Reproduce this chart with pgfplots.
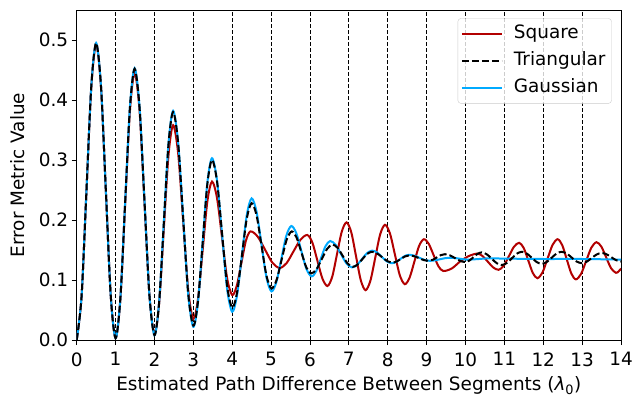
\documentclass[border=0pt]{standalone}
\usepackage{fontspec}
\setmainfont{DejaVu Sans}
\usepackage{pgfplots}
\pgfplotsset{compat=1.18}
\definecolor{sqred}{RGB}{178,0,0}
\definecolor{gblue}{RGB}{0,170,255}
\begin{document}
\begin{tikzpicture}[font=\fontsize{18.5}{22}\selectfont]
\begin{axis}[
  scale only axis, width=544.3bp, height=330bp,
  xmin=0, xmax=14, ymin=0, ymax=0.55,
  xtick={0,1,2,3,4,5,6,7,8,9,10,11,12,13,14},
  ytick={0,0.1,0.2,0.3,0.4,0.5},
  /pgf/number format/assume math mode=true,
  yticklabel style={/pgf/number format/.cd, fixed, fixed zerofill, precision=1},
  xticklabel style={yshift=-4bp},
  tick align=outside, xtick pos=left, ytick pos=left,
  major tick length=5bp,
  tick style={black, line width=0.8bp},
  axis line style={black, line width=0.8bp},
  xmajorgrids=true,
  major grid style={black, line width=0.9bp, dash pattern=on 4bp off 2bp},
  xlabel={Estimated Path Difference Between Segments (\textit{λ}\textsubscript{0})},
  ylabel={Error Metric Value},
  xlabel style={at={(axis description cs:0.5,-0.1545)}, anchor=base},
  ylabel style={at={(axis description cs:-0.0955,0.5)}, anchor=base},
  legend image code/.code={\draw[#1] (0bp,0bp) -- (40bp,0bp);},
  legend cell align=left,
  legend style={at={(1,1)}, anchor=north east, xshift=-9.3bp, yshift=-8.3bp,
    draw=black!20, rounded corners=3bp, fill=white, fill opacity=0.8, text opacity=1,
    inner xsep=3bp, inner ysep=1.5bp, row sep=0bp,
    nodes={text height=13.5bp, text depth=4bp, inner ysep=4.9bp, inner xsep=3bp},
    /tikz/every odd column/.append style={column sep=8bp}},
]
\addlegendimage{sqred, line width=2bp}
\addlegendentry{Square}
\addlegendimage{black, line width=2bp, dash pattern=on 7bp off 3bp}
\addlegendentry{Triangular}
\addlegendimage{gblue, line width=2bp}
\addlegendentry{Gaussian}

% Square
\addplot[forget plot, sqred, line width=2bp, smooth, tension=0.5] coordinates {
(0,0) (0.125,0.0722) (0.25,0.2465) (0.375,0.4208) (0.5,0.493)
(0.625,0.4213) (0.75,0.248) (0.875,0.0747) (1.0,0.003)
(1.1225,0.0677) (1.245,0.224) (1.3675,0.3803) (1.49,0.445)
(1.6175,0.3813) (1.745,0.2275) (1.8725,0.0737) (2.0,0.010)
(2.12,0.061) (2.24,0.184) (2.36,0.307) (2.48,0.358)
(2.61,0.3107) (2.74,0.1965) (2.87,0.0823) (3.0,0.035)
(3.12,0.0685) (3.24,0.1495) (3.36,0.2305) (3.48,0.264)
(3.61,0.2363) (3.74,0.1695) (3.87,0.1027) (4.0,0.075)
(4.1175,0.0905) (4.235,0.128) (4.3525,0.1655) (4.47,0.181)
(4.6575,0.1721) (4.845,0.1505) (5.0325,0.1289) (5.22,0.120)
(5.3975,0.1281) (5.575,0.1475) (5.7525,0.1669) (5.93,0.175)
(6.06,0.1626) (6.19,0.1325) (6.32,0.1024) (6.45,0.090)
(6.5725,0.1055) (6.695,0.143) (6.8175,0.1805) (6.94,0.196)
(7.0625,0.1795) (7.185,0.1395) (7.3075,0.0995) (7.43,0.083)
(7.555,0.099) (7.68,0.1375) (7.805,0.176) (7.93,0.192)
(8.0575,0.1775) (8.185,0.1425) (8.3125,0.1075) (8.44,0.093)
(8.5625,0.104) (8.685,0.1305) (8.8075,0.157) (8.93,0.168)
(9.055,0.1602) (9.18,0.1415) (9.305,0.1228) (9.43,0.115)
(9.6475,0.1192) (9.865,0.1310) (10.0825,0.1398) (10.3,0.144)
(10.4375,0.140) (10.575,0.1305) (10.7125,0.121) (10.85,0.117)
(10.9825,0.1236) (11.115,0.1395) (11.2475,0.1554) (11.38,0.162)
(11.4975,0.1534) (11.615,0.1325) (11.7325,0.1116) (11.85,0.103)
(11.98,0.1125) (12.11,0.1355) (12.24,0.1585) (12.37,0.168)
(12.4875,0.1582) (12.605,0.1345) (12.7225,0.1108) (12.84,0.101)
(12.9725,0.1101) (13.105,0.132) (13.2375,0.1539) (13.37,0.163)
(13.495,0.1555) (13.62,0.1375) (13.745,0.1195) (13.87,0.112)
(13.94,0.1145) (14.0,0.119)
};

% Gaussian
\addplot[forget plot, gblue, line width=2bp, smooth, tension=0.5] coordinates {
(0,0) (0.125,0.0725) (0.25,0.2475) (0.375,0.4225) (0.5,0.495)
(0.625,0.423) (0.75,0.249) (0.875,0.075) (1.0,0.003)
(1.1225,0.069) (1.245,0.228) (1.3675,0.387) (1.49,0.453)
(1.6175,0.388) (1.745,0.2305) (1.8725,0.073) (2.0,0.008)
(2.12,0.063) (2.24,0.195) (2.36,0.327) (2.48,0.382)
(2.61,0.329) (2.74,0.202) (2.87,0.075) (3.0,0.022)
(3.12,0.063) (3.24,0.1625) (3.36,0.262) (3.48,0.303)
(3.61,0.2655) (3.74,0.175) (3.87,0.0845) (4.0,0.047)
(4.125,0.0747) (4.25,0.1415) (4.375,0.2083) (4.5,0.236)
(4.6275,0.2133) (4.755,0.1585) (4.8825,0.1037) (5.01,0.081)
(5.1375,0.097) (5.265,0.1355) (5.3925,0.174) (5.52,0.190)
(5.65,0.1777) (5.78,0.148) (5.91,0.1183) (6.04,0.106)
(6.16,0.1146) (6.28,0.1355) (6.40,0.1564) (6.52,0.165)
(6.66,0.1586) (6.80,0.143) (6.94,0.1274) (7.08,0.121)
(7.21,0.1251) (7.34,0.135) (7.47,0.1449) (7.6,0.149)
(7.725,0.1459) (7.85,0.1385) (7.975,0.1311) (8.1,0.128)
(8.2125,0.130) (8.325,0.135) (8.4375,0.140) (8.55,0.142)
(8.6825,0.1405) (8.815,0.137) (8.9475,0.1335) (9.08,0.132)
(9.21,0.1327) (9.34,0.1345) (9.47,0.1363) (9.6,0.137)
(9.725,0.1366) (9.85,0.1355) (9.975,0.1344) (10.1,0.134)
(10.35,0.135) (10.6,0.136) (11.2,0.1355) (12,0.135) (13,0.135) (14,0.134)
};

% Triangular
\addplot[forget plot, black, line width=2bp, dash pattern=on 7bp off 3bp, smooth, tension=0.5] coordinates {
(0,0) (0.125,0.0725) (0.25,0.2475) (0.375,0.4225) (0.5,0.495)
(0.625,0.423) (0.75,0.249) (0.875,0.075) (1.0,0.003)
(1.1225,0.0687) (1.245,0.2275) (1.3675,0.386) (1.49,0.452)
(1.6175,0.387) (1.745,0.23) (1.8725,0.073) (2.0,0.008)
(2.12,0.0625) (2.24,0.194) (2.36,0.3255) (2.48,0.380)
(2.61,0.328) (2.74,0.202) (2.87,0.076) (3.0,0.024)
(3.12,0.0644) (3.24,0.162) (3.36,0.2596) (3.48,0.300)
(3.61,0.264) (3.74,0.177) (3.87,0.090) (4.0,0.054)
(4.125,0.0795) (4.25,0.141) (4.375,0.2025) (4.5,0.228)
(4.6275,0.2072) (4.755,0.157) (4.8825,0.1068) (5.01,0.086)
(5.14,0.0999) (5.27,0.1335) (5.40,0.1671) (5.53,0.181)
(5.655,0.1708) (5.78,0.146) (5.905,0.1212) (6.03,0.111)
(6.1675,0.118) (6.305,0.135) (6.4425,0.152) (6.58,0.159)
(6.71,0.1536) (6.84,0.1405) (6.97,0.1274) (7.1,0.122)
(7.2225,0.1257) (7.345,0.1345) (7.4675,0.1433) (7.59,0.147)
(7.7225,0.1444) (7.855,0.138) (7.9875,0.1316) (8.12,0.129)
(8.2275,0.1308) (8.335,0.135) (8.4425,0.1392) (8.55,0.141)
(8.675,0.1397) (8.80,0.1365) (8.925,0.1333) (9.05,0.132)
(9.155,0.1336) (9.26,0.1375) (9.365,0.1414) (9.47,0.143)
(9.60,0.1411) (9.73,0.1365) (9.86,0.1319) (9.99,0.130)
(10.0975,0.1323) (10.205,0.138) (10.3125,0.1437) (10.42,0.146)
(10.5475,0.1429) (10.675,0.1355) (10.8025,0.1281) (10.93,0.125)
(11.06,0.1282) (11.19,0.136) (11.32,0.1438) (11.45,0.147)
(11.5775,0.1441) (11.705,0.137) (11.8325,0.1299) (11.96,0.127)
(12.0875,0.1299) (12.215,0.137) (12.3425,0.1441) (12.47,0.147)
(12.60,0.1442) (12.73,0.1375) (12.86,0.1308) (12.99,0.128)
(13.1175,0.1305) (13.245,0.1365) (13.3725,0.1425) (13.5,0.145)
(13.625,0.143) (13.75,0.138) (13.875,0.133) (14.0,0.131)
};
\end{axis}
\pgfresetboundingbox
\useasboundingbox ([shift={(-76.7bp,-61bp)}]current axis.south west) rectangle ([shift={(12bp,10bp)}]current axis.north east);
\end{tikzpicture}
\end{document}
